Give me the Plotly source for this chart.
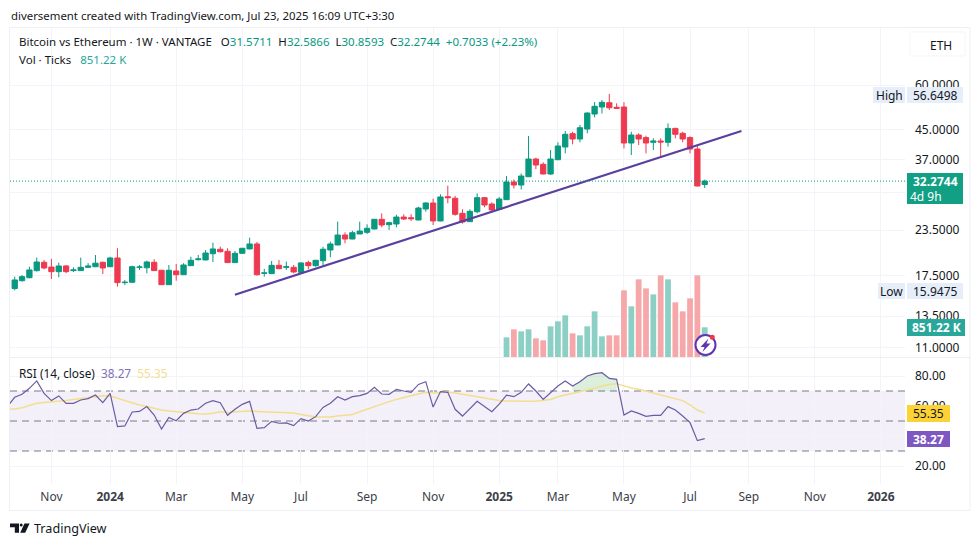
#!/usr/bin/env python3
"""Bitcoin vs Ethereum weekly chart, candles + volume + RSI"""
import numpy as np
import pandas as pd
import plotly.graph_objects as go

W, H = 980, 546

# weekly bars, first one is the week of 2 Oct 2023
weeks = pd.date_range("2023-10-02", periods=95, freq="7D")
rsi_weeks = pd.date_range("2023-09-25", periods=96, freq="7D")

opens = [16.13, 16.97, 17.30, 18.11, 19.11, 18.53, 17.99, 18.66, 18.11, 18.11,
         18.50, 18.57, 19.11, 18.57, 19.65, 16.76, 16.80, 18.50, 18.45, 19.11,
         18.15, 16.54, 18.07, 17.64, 18.70, 19.44, 19.40, 20.20, 20.79, 20.51,
         19.07, 20.25, 20.83, 21.51, 17.80, 17.76, 18.74, 18.50, 18.50, 17.91,
         19.07, 18.70, 19.31, 20.69, 21.37, 22.79, 22.21, 22.94, 23.19, 23.69,
         25.22, 24.36, 24.47, 25.59, 25.48, 25.11, 26.95, 28.02, 24.95, 29.19,
         28.89, 26.21, 24.84, 26.48, 29.00, 27.84, 26.90, 28.63, 32.08, 31.47,
         33.20, 37.22, 35.97, 33.79, 37.05, 40.22, 43.84, 42.35, 45.17, 49.76,
         52.06, 53.53, 51.96, 52.06, 41.27, 43.46, 42.73, 41.46, 41.81, 41.46,
         45.35, 43.94, 42.73, 39.70, 31.5711]
highs = [17.42, 17.61, 18.57, 19.70, 19.40, 19.53, 19.07, 18.78, 18.50, 19.70,
         19.00, 20.03, 19.19, 19.81, 20.92, 17.05, 18.70, 18.78, 19.31, 19.49,
         18.19, 18.78, 18.91, 19.00, 19.81, 20.03, 20.69, 21.69, 21.14, 20.92,
         20.55, 20.96, 22.40, 21.79, 18.31, 19.27, 19.40, 19.19, 18.78, 19.11,
         19.31, 19.40, 21.13, 21.83, 24.84, 23.19, 23.43, 24.84, 24.42, 25.27,
         26.21, 24.84, 25.98, 26.05, 26.05, 27.35, 28.15, 28.81, 29.64, 31.33,
         29.32, 26.90, 26.90, 29.83, 29.13, 28.15, 29.13, 33.35, 32.60, 33.90,
         43.18, 37.53, 36.44, 39.45, 41.46, 44.59, 44.39, 46.35, 50.30, 53.73,
         54.47, 56.6498, 53.31, 53.73, 44.39, 43.94, 43.26, 42.56, 42.56, 46.86,
         45.55, 44.39, 43.11, 40.48, 32.5866]
lows = [15.9475, 16.87, 17.24, 17.99, 18.27, 17.16, 17.35, 17.80, 17.95, 18.07,
        18.45, 18.53, 17.72, 18.53, 16.33, 16.51, 16.76, 18.19, 17.80, 18.07,
        16.51, 16.51, 16.97, 17.61, 18.66, 19.31, 19.36, 19.15, 20.38, 19.03,
        19.03, 20.16, 20.79, 17.53, 17.42, 17.72, 18.27, 18.19, 17.80, 17.87,
        18.27, 18.57, 18.72, 19.74, 21.33, 21.60, 22.17, 22.94, 22.94, 23.65,
        23.95, 23.54, 23.95, 25.11, 24.95, 25.06, 26.48, 24.31, 24.90, 27.97,
        25.82, 24.52, 24.79, 26.21, 27.26, 26.48, 26.78, 28.57, 30.77, 30.57,
        33.14, 34.89, 33.72, 33.57, 36.98, 38.61, 40.92, 41.46, 43.94, 48.71,
        49.94, 51.06, 51.40, 39.87, 38.19, 40.74, 38.61, 39.45, 37.77, 40.30,
        42.56, 41.46, 38.61, 31.21, 30.8593]
closes = [17.05, 17.42, 18.19, 19.15, 18.42, 17.99, 18.66, 17.99, 18.19, 18.50,
          18.66, 19.00, 18.42, 19.65, 16.76, 16.80, 18.57, 18.53, 19.15, 18.11,
          16.54, 18.15, 17.64, 18.78, 19.36, 19.53, 20.29, 20.83, 20.46, 19.07,
          20.25, 20.92, 21.51, 17.64, 17.84, 18.74, 18.34, 18.57, 17.95, 19.03,
          18.70, 19.36, 20.79, 21.51, 22.79, 22.21, 23.13, 23.38, 23.80, 25.22,
          24.31, 24.68, 25.59, 25.27, 25.32, 27.13, 28.02, 24.95, 29.13, 29.00,
          26.05, 24.79, 26.55, 29.00, 27.66, 26.78, 28.75, 32.08, 31.47, 33.35,
          37.22, 35.81, 33.79, 37.22, 40.48, 43.66, 42.35, 45.55, 50.08, 52.30,
          53.67, 51.82, 51.63, 41.27, 43.46, 42.35, 41.27, 41.81, 41.54, 45.35,
          43.66, 42.35, 39.70, 31.27, 32.2744]

# volume only exists from bar 67 on, in K ticks
volumes = [563, 793, 735, 793, 535, 478, 879, 1022, 1194, 678, 621, 879, 1308, 592,
           621, 621, 1910, 1452, 2225, 1967, 1795, 2340, 2225, 1566, 1308, 1681, 2340, 851.22]
volume_up = [1, 0, 1, 1, 0, 0, 1, 1, 1, 0, 1, 1, 1, 1,
             0, 0, 0, 1, 0, 0, 1, 0, 1, 0, 0, 0, 0, 1]

rsi_vals = [59.6, 65.8, 67.8, 71.8, 76.7, 68.4, 63.6, 66.7, 61.8, 61.8, 64.0, 64.9,
            67.3, 62.2, 68.4, 46.2, 46.7, 56.0, 56.4, 59.6, 54.0, 44.7, 52.4, 50.2,
            55.1, 57.3, 58.0, 61.8, 63.6, 62.2, 53.8, 57.8, 61.1, 63.1, 45.1, 45.6,
            49.8, 48.5, 48.7, 46.9, 51.6, 50.0, 52.9, 59.1, 61.8, 66.2, 64.0, 66.2,
            66.9, 68.4, 72.4, 68.0, 67.8, 71.1, 70.0, 69.1, 74.4, 76.2, 59.3, 69.6,
            69.1, 57.8, 53.3, 58.4, 63.1, 59.6, 56.2, 61.3, 67.3, 66.2, 69.1, 74.7,
            70.0, 64.4, 69.1, 73.3, 76.7, 73.3, 76.2, 80.0, 81.6, 82.2, 78.4, 77.8,
            54.0, 56.7, 55.1, 53.1, 53.8, 53.8, 59.6, 57.3, 53.3, 48.9, 36.9, 38.27]
rsi_ma = [58.0, 58.0, 58.9, 60.2, 61.8, 62.4, 62.7, 63.1, 63.6, 64.4, 65.1, 65.6,
          66.2, 66.9, 66.7, 65.1, 63.6, 61.8, 60.7, 59.6, 58.4, 57.3, 56.7, 56.2,
          55.6, 55.1, 54.9, 54.7, 55.1, 56.2, 55.6, 56.2, 56.7, 56.7, 56.4, 56.2,
          56.2, 56.0, 55.8, 55.3, 54.4, 53.6, 52.7, 52.7, 52.7, 53.3, 53.8, 54.4,
          56.2, 58.0, 59.6, 61.1, 62.9, 64.4, 65.8, 66.9, 68.0, 69.1, 68.7, 68.9,
          69.3, 68.7, 67.8, 66.9, 66.2, 65.3, 64.4, 63.6, 63.3, 63.1, 63.1, 63.1,
          63.1, 63.6, 64.4, 66.2, 67.3, 68.4, 69.1, 70.2, 71.8, 73.3, 74.4, 74.9,
          73.3, 72.0, 71.1, 69.8, 68.7, 67.6, 66.4, 65.1, 63.6, 60.7, 57.3, 55.35]

# hand drawn trendline on the chart
trend_dates = ["2024-04-29", "2025-08-25"]
trend_prices = [15.5, 44.6]

# 30 and 40 sit fully under the badges, only their gridlines show
price_ticks = [60, 45, 37, 30, 23.5, 17.5, 13.5, 11]
price_labels = ["60.0000", "45.0000", "37.0000", "", "23.5000", "17.5000", "13.5000", "11.0000"]
rsi_ticks = [80, 60, 40, 20]
rsi_labels = ["80.00", "60.00", "", "20.00"]
time_ticks = ["2023-11-06", "2024-01-01", "2024-03-04", "2024-05-06", "2024-07-01", "2024-09-02",
              "2024-11-04", "2025-01-06", "2025-03-03", "2025-05-05", "2025-07-07", "2025-09-01",
              "2025-11-03", "2026-01-05"]
time_labels = ["Nov", "<b>2024</b>", "Mar", "May", "Jul", "Sep", "Nov", "<b>2025</b>", "Mar", "May", "Jul", "Sep",
               "Nov", "<b>2026</b>"]

GREEN = "#089981"
RED = "#ee3a50"
TEXT = "#131722"
GRID = "#f2f4f9"
FONT = "Noto Sans, Open Sans, sans-serif"


def px(x):
    return x / W


def py(y):
    return 1 - y / H


def box(x0, y0, x1, y1, fill, line=None, kind="rect", lw=1):
    return dict(type=kind, xref="paper", yref="paper", x0=px(x0), x1=px(x1), y0=py(y0), y1=py(y1),
                fillcolor=fill, line=dict(color=line or "rgba(0,0,0,0)", width=lw if line else 0),
                layer="above")


def poly(points, fill):
    path = "M " + " L ".join(f"{px(x):.5f},{py(y):.5f}" for x, y in points) + " Z"
    return dict(type="path", xref="paper", yref="paper", path=path, fillcolor=fill, line=dict(width=0), layer="above")


def label(x, y, text, size=12, color=TEXT, anchor="left"):
    return dict(xref="paper", yref="paper", x=px(x), y=py(y), text=text, showarrow=False, xanchor=anchor,
                yanchor="middle", borderpad=0, font=dict(size=size, color=color, family=FONT))


def col(text, color=GREEN):
    return f'<span style="color:{color}">{text}</span>'


fig = go.Figure()

# volume sits behind the candles, on its own hidden axis
fig.add_trace(go.Bar(
    x=weeks[67:], y=volumes, yaxis="y3", width=5.5 * 86400000,
    marker=dict(color=["#8ccfc5" if u else "#f5a7a9" for u in volume_up], line_width=0),
))
fig.add_trace(go.Candlestick(
    x=weeks, open=opens, high=highs, low=lows, close=closes, yaxis="y", whiskerwidth=0,
    increasing=dict(line=dict(color=GREEN, width=1), fillcolor=GREEN),
    decreasing=dict(line=dict(color=RED, width=1), fillcolor=RED),
))
fig.add_trace(go.Scatter(x=trend_dates, y=trend_prices, yaxis="y", mode="lines",
                         line=dict(color="#5b3f9f", width=2.2)))

# RSI pane, green wash only over the spring 2025 overbought stretch
fig.add_trace(go.Scatter(x=rsi_weeks[77:84], y=[70] * 7, yaxis="y2", mode="lines", line=dict(width=0)))
fig.add_trace(go.Scatter(x=rsi_weeks[77:84], y=rsi_vals[77:84], yaxis="y2", mode="lines", line=dict(width=0),
                         fill="tonexty", fillcolor="rgba(76,175,80,0.2)"))
fig.add_trace(go.Scatter(x=rsi_weeks, y=rsi_ma, yaxis="y2", mode="lines", line=dict(color="#f3de8e", width=1.5)))
fig.add_trace(go.Scatter(x=rsi_weeks, y=rsi_vals, yaxis="y2", mode="lines", line=dict(color="#6a5ca3", width=1.2)))

shapes = [
    dict(type="rect", xref="paper", yref="y2", x0=px(10), x1=px(905), y0=30, y1=70,
         fillcolor="rgba(126,87,194,0.09)", line_width=0, layer="below"),
    dict(type="line", xref="paper", yref="y", x0=px(10), x1=px(905), y0=closes[-1], y1=closes[-1],
         line=dict(color=GREEN, width=1, dash="1px,2px"), layer="above"),
]
for level in (70, 50, 30):
    shapes.append(dict(type="line", xref="paper", yref="y2", x0=px(10), x1=px(905), y0=level, y1=level,
                       line=dict(color="#787b86", width=1, dash="7px,5px"), layer="below"))

# frame and pane separator
shapes += [
    box(9.5, 27.5, 970, 510.5, "rgba(0,0,0,0)", "#eef0f5"),
    box(10, 357, 970, 357.6, "#dcdfe6"),
]
# right hand badges
shapes += [
    box(910, 32, 965, 56, "#ffffff", "#f4f5f8"),
    box(873, 87, 905, 103, "#e6eefa"),
    box(907, 87, 963, 103, "#e6eefa"),
    box(907, 173, 963, 204, "#12a085"),
    box(878, 283, 905, 299, "#e6eefa"),
    box(907, 283, 963, 299, "#e6eefa"),
    box(907, 319, 965, 336, "#2aa79b"),
    box(907, 405, 950, 422, "#fdd235"),
    box(907, 431, 950, 447, "#7e57c2"),
]
# lightning badge on the last volume bar
shapes += [
    box(695.5, 335, 715.5, 355, "#ffffff", "#5e35b1", kind="circle", lw=2),
    poly([(708.5, 338.5), (700.5, 347), (704.5, 347), (702.5, 352), (710.5, 343.5), (706.5, 343.5)], "#5e35b1"),
    box(709.8, 334.8, 714.8, 339.8, "#f23645", kind="circle"),
]
# TradingView logo
shapes += [
    poly([(10, 523.5), (19, 523.5), (19, 532.7), (14.8, 532.7), (14.8, 527.2), (10, 527.2)], TEXT),
    box(19.7, 523.6, 22.7, 526.6, TEXT, kind="circle"),
    poly([(24.5, 523.5), (29.6, 523.5), (25.2, 532.7), (20.2, 532.7)], TEXT),
]

header = (f"Bitcoin vs Ethereum · 1W · VANTAGE\u00a0\u00a0\u00a0O{col('31.5711')}\u00a0\u00a0H{col('32.5866')}"
          f"\u00a0\u00a0L{col('30.8593')}\u00a0\u00a0C{col('32.2744')}\u00a0\u00a0{col('+0.7033 (+2.23%)')}")
annotations = [
    label(10, 15, "diversement created with TradingView.com, Jul 23, 2025 16:09 UTC+3:30", 11.4),
    label(18, 42, header, 11.5),
    label(18, 59, f"Vol · Ticks\u00a0\u00a0\u00a0{col('851.22 K', '#26a69a')}", 11.5),
    label(18, 373, f"RSI (14, close)\u00a0\u00a0{col('38.27', '#7e72b5')}\u00a0\u00a0{col('55.35', '#f3de8e')}", 11.8),
    label(929, 45, "ETH", 12),
    label(889, 95, "High", 12, anchor="center"),
    label(935, 95, "56.6498", 12, anchor="center"),
    label(935, 182, "<b>32.2744</b>", 12, "#ffffff", "center"),
    label(926, 196, "4d 9h", 12, "#ffffff", "center"),
    label(891, 291, "Low", 12, anchor="center"),
    label(935, 291, "15.9475", 12, anchor="center"),
    label(936, 327.5, "<b>851.22 K</b>", 12, "#ffffff", "center"),
    label(928, 413.5, "55.35", 12, anchor="center"),
    label(928, 439, "<b>38.27</b>", 12, "#ffffff", "center"),
    label(33, 528, "TradingView", 12.6),
]

axis_font = dict(size=12, color=TEXT, family=FONT)
fig.update_layout(
    width=W, height=H, margin=dict(l=0, r=0, t=0, b=0),
    paper_bgcolor="white", plot_bgcolor="white", showlegend=False, font=dict(family=FONT),
    barmode="overlay", boxgap=0.1, boxgroupgap=0.2, shapes=shapes, annotations=annotations,
    xaxis=dict(
        domain=[px(10), px(905)], anchor="y2", type="date", range=["2023-09-27 12:00", "2026-01-28"],
        tickmode="array", tickvals=time_ticks, ticktext=time_labels, tickfont=dict(size=12, color="#3c4048", family=FONT),
        ticks="", showgrid=True, gridcolor=GRID, gridwidth=1, zeroline=False, showline=False,
        rangeslider=dict(visible=False), ticklabelstandoff=4,
    ),
    yaxis=dict(
        domain=[py(357), py(28)], type="log", side="right", anchor="x",
        range=[np.log10(10.37), np.log10(86.7)], tickmode="array", tickvals=price_ticks, ticktext=price_labels,
        tickfont=axis_font, ticks="", showgrid=True, gridcolor=GRID, zeroline=False, showline=False,
        ticklabelstandoff=9,
    ),
    yaxis2=dict(
        domain=[py(484), py(358)], side="right", anchor="x", range=[8, 92],
        tickmode="array", tickvals=rsi_ticks, ticktext=rsi_labels, tickfont=axis_font,
        ticks="", showgrid=True, gridcolor=GRID, zeroline=False, showline=False, ticklabelstandoff=9,
    ),
    yaxis3=dict(domain=[py(357), py(28)], overlaying="y", side="right", anchor="x", range=[0, 9429],
                showticklabels=False, showgrid=False, zeroline=False),
)

fig.write_html("out.html", config=dict(displayModeBar=False),
               post_script="document.body.style.margin='0';document.documentElement.style.overflow='hidden';")
